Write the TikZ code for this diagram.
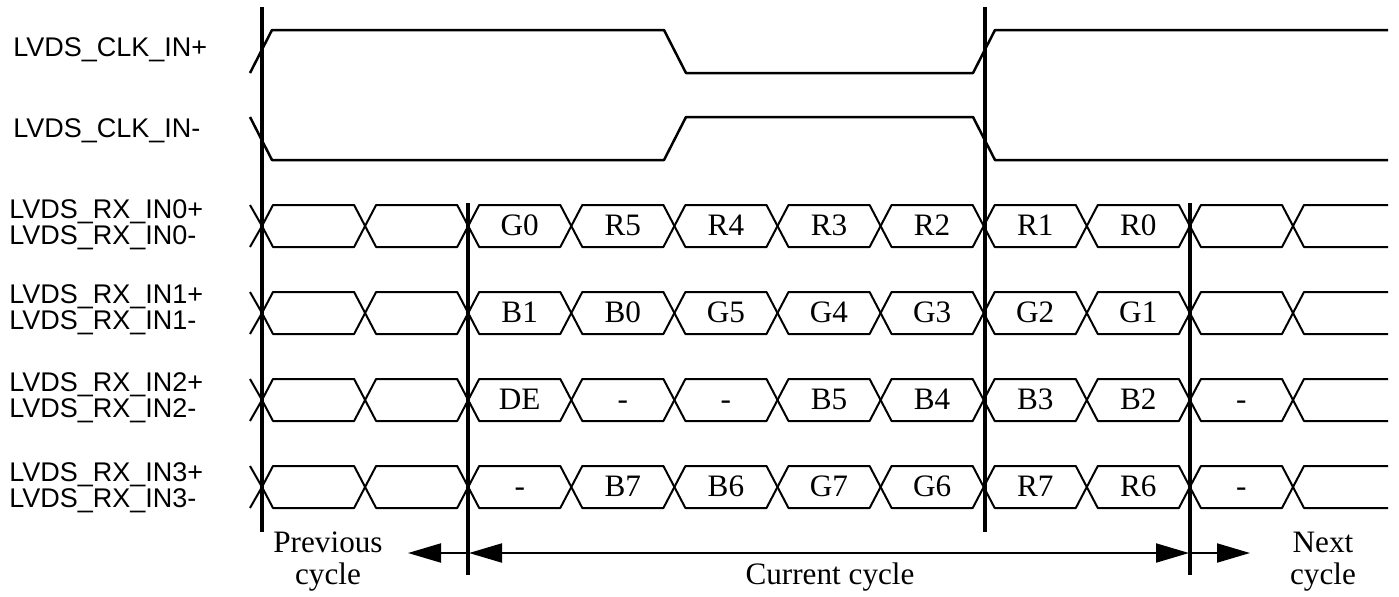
\documentclass[tikz,border=0pt]{standalone}
\usepackage{fontspec}
\setmainfont{Liberation Serif}
\setsansfont{Liberation Sans}
\usepackage{tikz}
\usetikzlibrary{arrows.meta,positioning}
\pgfdeclarelayer{edgelayer}
\pgfdeclarelayer{nodelayer}
\pgfsetlayers{edgelayer,nodelayer,main}
\tikzstyle{none}=[inner sep=0pt]
\tikzstyle{signame}=[inner sep=0pt,anchor=base west,font=\sffamily\fontsize{13.5}{13.5}\selectfont]
\tikzstyle{bits}=[inner sep=0pt,anchor=base,font=\fontsize{15.6}{16}\selectfont]
\tikzstyle{cyclename}=[inner sep=0pt,align=center,font=\fontsize{15.6}{16}\selectfont]
\tikzstyle{wave}=[-,draw=black,line width=1.25pt,line join=round]
\tikzstyle{bus}=[-,draw=black,line width=1pt,line join=round]
\tikzstyle{marker}=[-,draw=black,line width=1.6pt]
\tikzstyle{cyclearrow}=[-{Triangle[length=16.5pt,width=9.5pt]},draw=black,line width=1pt]
\tikzstyle{botharrow}=[{Triangle[length=16.5pt,width=9.5pt]}-{Triangle[length=16.5pt,width=9.5pt]},draw=black,line width=1pt]

\begin{document}
\begin{tikzpicture}[x=0.5pt,y=-0.5pt]
	\useasboundingbox (0,0) rectangle (1399,596);
	\begin{pgfonlayer}{nodelayer}
		\node [style=signame] (clkp) at (13,56) {LVDS\_CLK\_IN+};
		\node [style=signame] (clkn) at (13,137) {LVDS\_CLK\_IN-};
		\node [style=signame] (rx0p) at (9,218) {LVDS\_RX\_IN0+};
		\node [style=signame] (rx0n) at (9,244) {LVDS\_RX\_IN0-};
		\node [style=signame] (rx1p) at (9,303) {LVDS\_RX\_IN1+};
		\node [style=signame] (rx1n) at (9,329) {LVDS\_RX\_IN1-};
		\node [style=signame] (rx2p) at (9,391) {LVDS\_RX\_IN2+};
		\node [style=signame] (rx2n) at (9,417) {LVDS\_RX\_IN2-};
		\node [style=signame] (rx3p) at (9,481) {LVDS\_RX\_IN3+};
		\node [style=signame] (rx3n) at (9,507) {LVDS\_RX\_IN3-};
		\foreach \t [count=\i from 2] in {G0,R5,R4,R3,R2,R1,R0}
			\node [style=bits] (d0c\i) at (313.5+103.1*\i,235) {\t};
		\foreach \t [count=\i from 2] in {B1,B0,G5,G4,G3,G2,G1}
			\node [style=bits] (d1c\i) at (313.5+103.1*\i,322) {\t};
		\foreach \t [count=\i from 2] in {DE,-,-,B5,B4,B3,B2,-}
			\node [style=bits] (d2c\i) at (313.5+103.1*\i,409) {\t};
		\foreach \t [count=\i from 2] in {-,B7,B6,G7,G6,R7,R6,-}
			\node [style=bits] (d3c\i) at (313.5+103.1*\i,496) {\t};
		\node [style=cyclename] (prev) at (328,562) {Previous\\cycle};
		\node [style=cyclename, anchor=base] (cur) at (830,584) {Current cycle};
		\node [style=cyclename] (next) at (1323,562) {Next\\cycle};
		\node [style=none] (m1t) at (262,7) {};
		\node [style=none] (m1b) at (262,532) {};
		\node [style=none] (m2t) at (468,203) {};
		\node [style=none] (m2b) at (468,575) {};
		\node [style=none] (m3t) at (985,7) {};
		\node [style=none] (m3b) at (985,532) {};
		\node [style=none] (m4t) at (1190,203) {};
		\node [style=none] (m4b) at (1190,575) {};
		\node [style=none] (pE) at (408,553) {};
		\node [style=none] (cL) at (469,553) {};
		\node [style=none] (cR) at (1189,553) {};
		\node [style=none] (nE) at (1250,553) {};
	\end{pgfonlayer}
	\begin{pgfonlayer}{edgelayer}
		\draw [style=wave] (250,73) -- (272,30) -- (664,30) -- (686,73) -- (973,73) -- (995,30) -- (1388,30);
		\draw [style=wave] (250,117) -- (272,160) -- (664,160) -- (686,117) -- (973,117) -- (995,160) -- (1388,160);
		\foreach \ym in {226,313,400,487} {
			\draw [style=bus] (250,\ym-21) -- (262,\ym) -- (250,\ym+21);
			\foreach \k in {0,...,9}
				\draw [style=bus] (262+103.1*\k,\ym) -- (273+103.1*\k,\ym-21) -- (354.1+103.1*\k,\ym-21) -- (365.1+103.1*\k,\ym)
					-- (354.1+103.1*\k,\ym+21) -- (273+103.1*\k,\ym+21) -- cycle;
			\draw [style=bus] (1388,\ym-21) -- (1304,\ym-21) -- (1293,\ym) -- (1304,\ym+21) -- (1388,\ym+21);
		}
		\draw [style=marker] (m1t.center) to (m1b.center);
		\draw [style=marker] (m2t.center) to (m2b.center);
		\draw [style=marker] (m3t.center) to (m3b.center);
		\draw [style=marker] (m4t.center) to (m4b.center);
		\draw [style=cyclearrow] (cL.center) to (pE.center);
		\draw [style=botharrow] (cL.center) to (cR.center);
		\draw [style=cyclearrow] (cR.center) to (nE.center);
	\end{pgfonlayer}
\end{tikzpicture}
\end{document}
